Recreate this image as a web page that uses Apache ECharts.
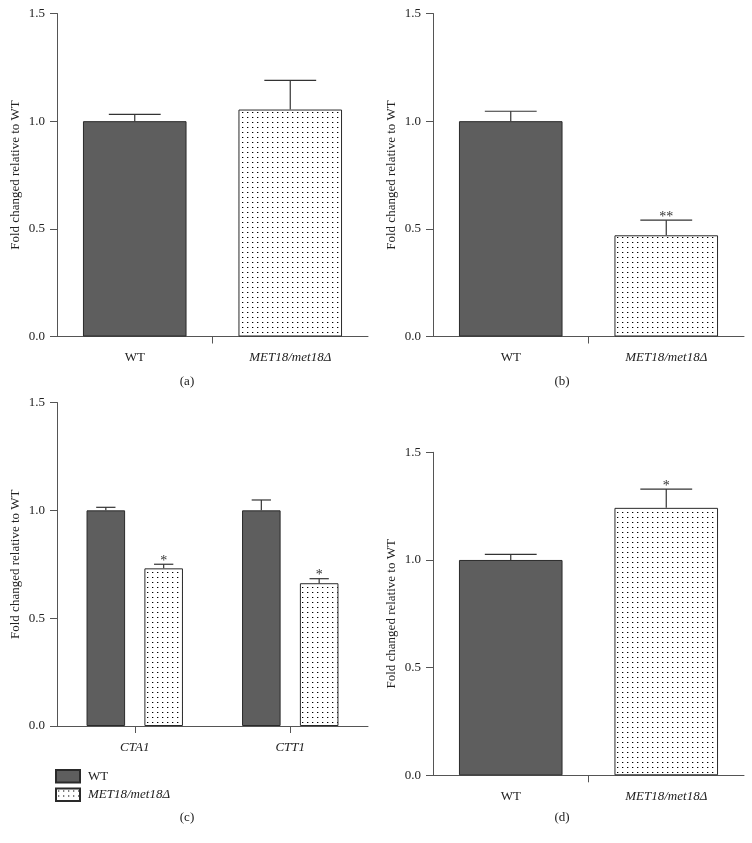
<!DOCTYPE html>
<html>
<head>
<meta charset="utf-8">
<script src="https://cdn.jsdelivr.net/npm/echarts@6/dist/echarts.min.js"></script>
<style>
html,body{margin:0;padding:0;background:#fff;}
#chart{width:752px;height:843px;}
</style>
</head>
<body>
<div id="chart"></div>
<script>
// ---------------- data ----------------
const catsABD = ['WT', 'MET18/met18Δ'];
const catsC = ['CTA1', 'CTT1'];
const yTickLabels = ['0.0', '0.5', '1.0', '1.5'];

const aMean = [1.0, 1.054];
const aErr = [0.032, 0.135];
const aStars = ['', ''];

const bMean = [1.0, 0.470];
const bErr = [0.046, 0.070];
const bStars = ['', '**'];

const cWTMean = [1.0, 1.0];
const cWTErr = [0.014, 0.048];
const cWTStars = ['', ''];
const cMutMean = [0.731, 0.662];
const cMutErr = [0.019, 0.021];
const cMutStars = ['*', '*'];

const dMean = [1.0, 1.242];
const dErr = [0.026, 0.087];
const dStars = ['', '*'];

const legendNames = ['WT', 'MET18/met18Δ'];
const panelLabels = ['(a)', '(b)', '(c)', '(d)'];
const yName = 'Fold changed relative to WT';

// ---------------- styles ----------------
const FONT = 'Liberation Serif';
const FS = 13;
const TXT = '#222';
const AX = '#555';
const DARK = '#5e5e5e';
const EDGE = '#2a2a2a';

function makeDots() {
  const c = document.createElement('canvas');
  c.width = 5; c.height = 5;
  const g = c.getContext('2d');
  g.fillStyle = '#ffffff';
  g.fillRect(0, 0, 5, 5);
  g.fillStyle = '#b0b0b0';
  g.fillRect(3, 2, 1, 1);
  g.fillStyle = '#000000';
  g.fillRect(2, 2, 1, 1);
  return c;
}
const dotFill = { image: makeDots(), repeat: 'repeat' };

const darkStyle = { color: DARK, borderColor: EDGE, borderWidth: 1 };
const dotStyle = { color: dotFill, borderColor: EDGE, borderWidth: 1 };

const grids = [
  { left: 57, top: 13.5, width: 311, height: 323 },
  { left: 433, top: 13.5, width: 311, height: 323 },
  { left: 57, top: 402.5, width: 311, height: 323.5 },
  { left: 433, top: 452.3, width: 311, height: 323 }
];

function italicFmt(v) { return v === 'WT' ? v : '{i|' + v + '}'; }
const labelRich = { i: { fontFamily: FONT, fontSize: FS, fontStyle: 'italic', color: TXT } };

function catAxis(gi, cats, alignTicks) {
  return {
    type: 'category', gridIndex: gi, data: cats, position: 'bottom',
    axisLine: { show: true, lineStyle: { color: AX, width: 1 } },
    axisTick: { show: alignTicks, alignWithLabel: true, length: 7, lineStyle: { color: AX } },
    axisLabel: { margin: 15, fontFamily: FONT, fontSize: FS, color: TXT, formatter: italicFmt, rich: labelRich },
    splitLine: { show: false }
  };
}
function tickAxis(gi) {
  return {
    type: 'value', gridIndex: gi, min: 0, max: 2, position: 'bottom',
    axisLine: { show: false },
    axisTick: { show: true, customValues: [1], length: 7, lineStyle: { color: AX } },
    axisLabel: { show: false },
    splitLine: { show: false }
  };
}
function valAxis(gi) {
  return {
    type: 'value', gridIndex: gi, min: 0, max: 1.5, interval: 0.5,
    name: yName, nameLocation: 'middle', nameGap: 35,
    nameTextStyle: { fontFamily: FONT, fontSize: FS, color: TXT },
    axisLine: { show: true, lineStyle: { color: AX, width: 1 } },
    axisTick: { show: true, length: 7, lineStyle: { color: AX } },
    axisLabel: { margin: 12, fontFamily: FONT, fontSize: FS, color: TXT,
      formatter: function (v) { return yTickLabels[Math.round(v / 0.5)]; } },
    splitLine: { show: false }
  };
}

// error bar drawing via the axes' own scales
function errSeries(xi, yi, means, errs, stars, offsetFrac, capFrac) {
  return {
    type: 'custom', xAxisIndex: xi, yAxisIndex: yi, z: 5, silent: true,
    data: means.map(function (m, i) { return [i, m, errs[i]]; }),
    renderItem: function (params, api) {
      const cat = api.value(0), m = api.value(1), e = api.value(2);
      const band = api.size([1, 0])[0];
      const base = api.coord([cat, m]);
      const top = api.coord([cat, m + e]);
      const x = base[0] + offsetFrac * band;
      const half = capFrac * band;
      const ls = { stroke: '#333', lineWidth: 1.2 };
      const children = [
        { type: 'line', shape: { x1: x, y1: base[1], x2: x, y2: top[1] }, style: ls },
        { type: 'line', shape: { x1: x - half, y1: top[1], x2: x + half, y2: top[1] }, style: ls }
      ];
      const s = stars[params.dataIndex];
      if (s) {
        children.push({ type: 'text', x: x, y: top[1] + 4,
          style: { text: s, fill: '#333', font: '14px "' + FONT + '"', align: 'center', verticalAlign: 'bottom' } });
      }
      return { type: 'group', children: children };
    }
  };
}

function singleBar(xi, yi, means) {
  return {
    type: 'bar', name: 'p' + xi, xAxisIndex: xi, yAxisIndex: yi, barCategoryGap: '33.4%',
    data: means.map(function (m, i) { return { value: m, itemStyle: i === 0 ? darkStyle : dotStyle }; }),
    emphasis: { disabled: true }
  };
}

// panel (c) layout fractions
const cGapCat = 0.38, cGapBar = 0.5;
const cBarW = (1 - cGapCat) / (2 + cGapBar);
const cOff = (cBarW + cBarW * cGapBar) / 2;

const option = {
  animation: false,
  backgroundColor: '#fff',
  grid: grids,
  xAxis: [
    catAxis(0, catsABD, false),
    catAxis(1, catsABD, false),
    catAxis(2, catsC, true),
    catAxis(3, catsABD, false),
    tickAxis(0), tickAxis(1), tickAxis(3)
  ],
  yAxis: [valAxis(0), valAxis(1), valAxis(2), valAxis(3)],
  legend: {
    data: legendNames, orient: 'vertical', left: 55, top: 769, padding: 0,
    icon: 'rect', itemWidth: 24, itemHeight: 12.5, itemGap: 4,
    selectedMode: false,
    textStyle: { fontFamily: FONT, fontSize: FS, color: TXT, padding: [0, 0, 0, 3], rich: labelRich },
    formatter: italicFmt
  },
  graphic: panelLabels.map(function (t, i) {
    return { type: 'text', x: i % 2 === 0 ? 187 : 562, y: i < 2 ? 381.5 : 818,
      style: { text: t, fill: TXT, font: FS + 'px "' + FONT + '"', align: 'center', verticalAlign: 'middle' } };
  }),
  series: [
    singleBar(0, 0, aMean),
    errSeries(0, 0, aMean, aErr, aStars, 0, 0.1667),
    singleBar(1, 1, bMean),
    errSeries(1, 1, bMean, bErr, bStars, 0, 0.1667),
    {
      type: 'bar', name: legendNames[0], xAxisIndex: 2, yAxisIndex: 2,
      barCategoryGap: (cGapCat * 100) + '%', barGap: (cGapBar * 100) + '%',
      itemStyle: darkStyle, data: cWTMean, emphasis: { disabled: true }
    },
    {
      type: 'bar', name: legendNames[1], xAxisIndex: 2, yAxisIndex: 2,
      barCategoryGap: (cGapCat * 100) + '%', barGap: (cGapBar * 100) + '%',
      itemStyle: dotStyle, data: cMutMean, emphasis: { disabled: true }
    },
    errSeries(2, 2, cWTMean, cWTErr, cWTStars, -cOff, cBarW / 4),
    errSeries(2, 2, cMutMean, cMutErr, cMutStars, cOff, cBarW / 4),
    singleBar(3, 3, dMean),
    errSeries(3, 3, dMean, dErr, dStars, 0, 0.1667)
  ]
};

const chart = echarts.init(document.getElementById('chart'), null, { renderer: 'canvas' });
chart.setOption(option);
</script>
</body>
</html>
